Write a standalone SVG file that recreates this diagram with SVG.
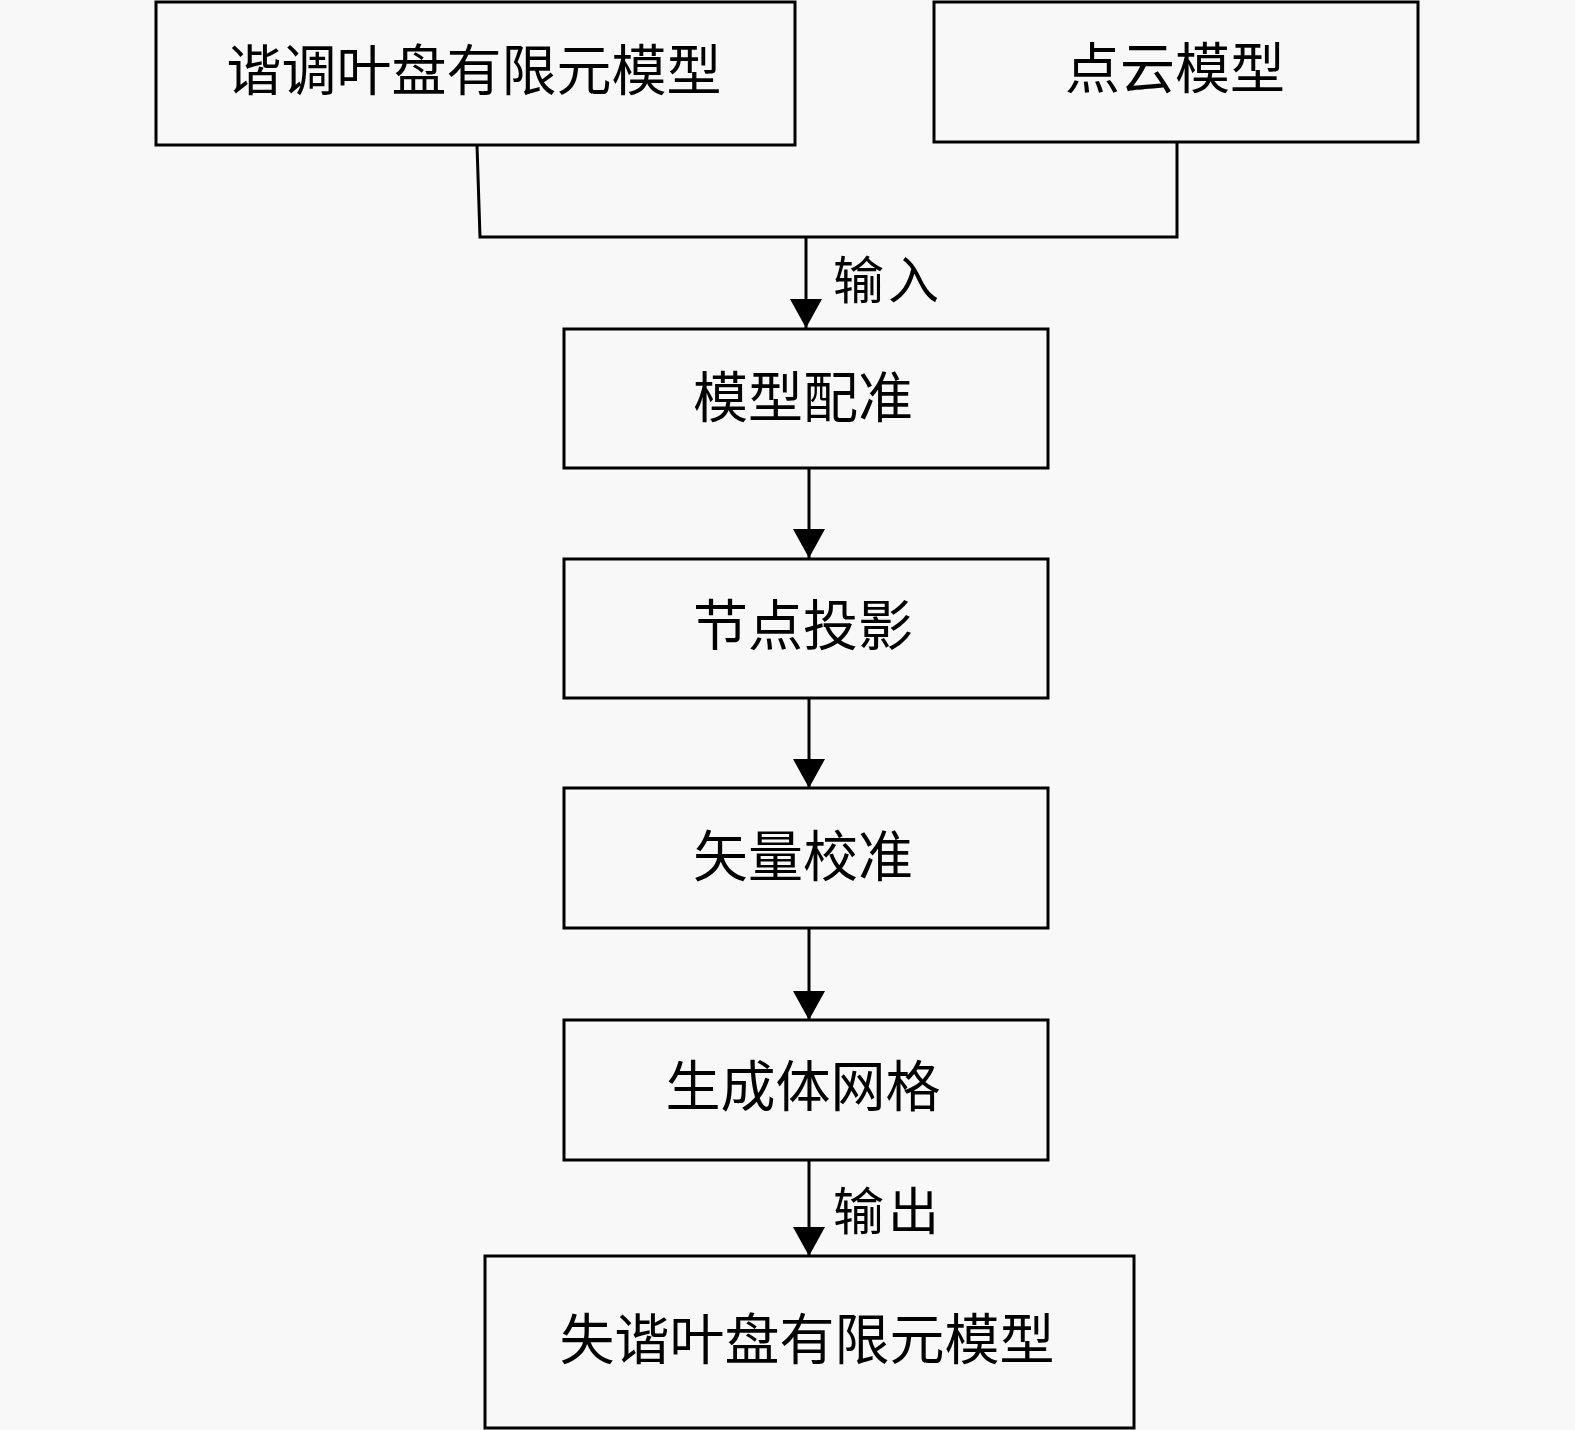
<svg xmlns="http://www.w3.org/2000/svg" width="1575" height="1430" viewBox="0 0 1575 1430">
<defs>
<marker id="arr" viewBox="0 0 29 32" refX="29" refY="16" markerWidth="29" markerHeight="32" markerUnits="userSpaceOnUse" orient="auto">
<path d="M0,0 L29,16 L0,32 z" fill="#000"/>
</marker>
<style>
.box{fill:#f8f8f8;stroke:#000;stroke-width:3}
.t{font-family:"Liberation Serif","Noto Sans CJK SC",serif;font-size:55px;fill:#000;text-anchor:middle}
.lbl{font-family:"Liberation Serif","Noto Sans CJK SC",serif;font-size:51px;fill:#000;letter-spacing:4px}
.ln{fill:none;stroke:#000;stroke-width:3}
</style>
</defs>
<rect x="0" y="0" width="1575" height="1430" fill="#f8f8f8"/>
<g id="connectors">
<path class="ln" d="M477,145 L480,237 L1177,237 L1177,142"/>
<line class="ln" x1="806" y1="237" x2="806" y2="328" marker-end="url(#arr)"/>
<line class="ln" x1="809" y1="468" x2="809" y2="558" marker-end="url(#arr)"/>
<line class="ln" x1="809" y1="698" x2="809" y2="788" marker-end="url(#arr)"/>
<line class="ln" x1="809" y1="928" x2="809" y2="1020" marker-end="url(#arr)"/>
<line class="ln" x1="809" y1="1160" x2="809" y2="1256" marker-end="url(#arr)"/>
<text class="lbl" x="833" y="299">输入</text>
<text class="lbl" x="833" y="1230">输出</text>
</g>
<g id="n1"><rect class="box" x="156" y="2" width="639" height="143"/><text class="t" x="474" y="90">谐调叶盘有限元模型</text></g>
<g id="n2"><rect class="box" x="934" y="2" width="484" height="140"/><text class="t" x="1175" y="88">点云模型</text></g>
<g id="n3"><rect class="box" x="564" y="329" width="484" height="139"/><text class="t" x="803" y="417">模型配准</text></g>
<g id="n4"><rect class="box" x="564" y="559" width="484" height="139"/><text class="t" x="803" y="645">节点投影</text></g>
<g id="n5"><rect class="box" x="564" y="788" width="484" height="140"/><text class="t" x="803" y="876">矢量校准</text></g>
<g id="n6"><rect class="box" x="564" y="1020" width="484" height="140"/><text class="t" x="803" y="1106">生成体网格</text></g>
<g id="n7"><rect class="box" x="485" y="1256" width="649" height="172"/><text class="t" x="807" y="1359">失谐叶盘有限元模型</text></g>
</svg>
